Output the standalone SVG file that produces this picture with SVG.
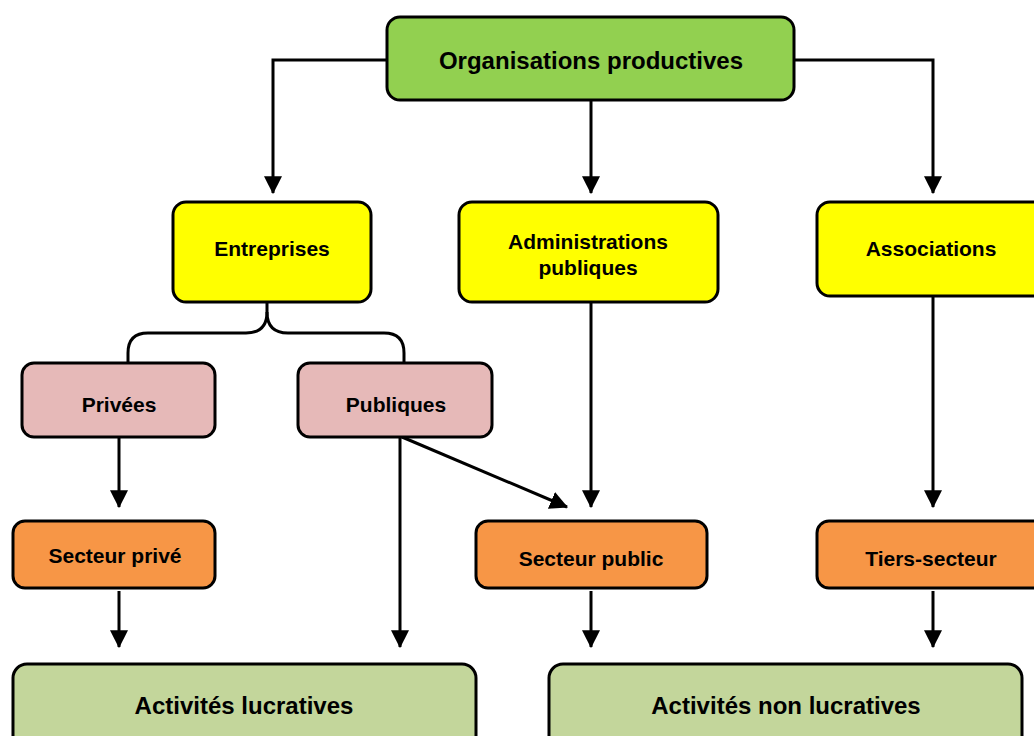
<svg xmlns="http://www.w3.org/2000/svg" width="1034" height="736" viewBox="0 0 1034 736">
<style>
.box{stroke:#000;stroke-width:3}
.g1{fill:#92D050}.y{fill:#FFFF00}.p{fill:#E6B9B8}.o{fill:#F79646}.g2{fill:#C3D69B}
text{font-family:"Liberation Sans",Arial,sans-serif;font-weight:bold;fill:#000;text-anchor:middle}
.s{font-size:21px}.l{font-size:24px}
.c{fill:none;stroke:#000;stroke-width:3}
</style>
<defs>
<marker id="ah" markerUnits="userSpaceOnUse" markerWidth="18" markerHeight="18" viewBox="0 0 16 16" refX="15" refY="8" orient="auto">
<path d="M0,0 L16,8 L0,16 z" fill="#000"/>
</marker>
</defs>
<g id="connectors">
<path class="c" d="M387,60 H273 V193" marker-end="url(#ah)"/>
<path class="c" d="M591,101 V193" marker-end="url(#ah)"/>
<path class="c" d="M794,60 H933 V193" marker-end="url(#ah)"/>
<path class="c" d="M267,302 V312 Q267,333 246,333 H148 Q128,333 128,353 V363"/>
<path class="c" d="M267,312 Q267,333 288,333 H384 Q404,333 404,353 V363"/>
<path class="c" d="M119,437 V507" marker-end="url(#ah)"/>
<path class="c" d="M400,437 V647" marker-end="url(#ah)"/>
<path class="c" d="M402,437 L567,507" marker-end="url(#ah)"/>
<path class="c" d="M591,302 V507" marker-end="url(#ah)"/>
<path class="c" d="M933,296 V507" marker-end="url(#ah)"/>
<path class="c" d="M119,591 V647" marker-end="url(#ah)"/>
<path class="c" d="M591,591 V647" marker-end="url(#ah)"/>
<path class="c" d="M933,591 V647" marker-end="url(#ah)"/>
</g>
<g id="n-org"><rect class="box g1" x="387" y="17" width="407" height="83" rx="13"/><text class="l" x="591" y="69">Organisations productives</text></g>
<g id="n-entreprises"><rect class="box y" x="173" y="202" width="198" height="100" rx="13"/><text class="s" x="272" y="256">Entreprises</text></g>
<g id="n-admin"><rect class="box y" x="459" y="202" width="259" height="100" rx="13"/><text class="s" x="588" y="249">Administrations</text><text class="s" x="588" y="275">publiques</text></g>
<g id="n-assoc"><rect class="box y" x="817" y="202" width="230" height="94" rx="13"/><text class="s" x="931" y="256">Associations</text></g>
<g id="n-privees"><rect class="box p" x="22" y="363" width="193" height="74" rx="12"/><text class="s" x="119" y="412">Privées</text></g>
<g id="n-publiques"><rect class="box p" x="298" y="363" width="194" height="74" rx="12"/><text class="s" x="396" y="412">Publiques</text></g>
<g id="n-sprive"><rect class="box o" x="13" y="521" width="202" height="67" rx="12"/><text class="s" x="115" y="563">Secteur privé</text></g>
<g id="n-spublic"><rect class="box o" x="476" y="521" width="231" height="67" rx="12"/><text class="s" x="591" y="566">Secteur public</text></g>
<g id="n-tiers"><rect class="box o" x="817" y="521" width="230" height="67" rx="12"/><text class="s" x="931" y="566">Tiers-secteur</text></g>
<g id="n-lucr"><rect class="box g2" x="13" y="664" width="463" height="90" rx="14"/><text class="l" x="244" y="714">Activités lucratives</text></g>
<g id="n-nonlucr"><rect class="box g2" x="549" y="664" width="473" height="90" rx="14"/><text class="l" x="786" y="714">Activités non lucratives</text></g>
</svg>
